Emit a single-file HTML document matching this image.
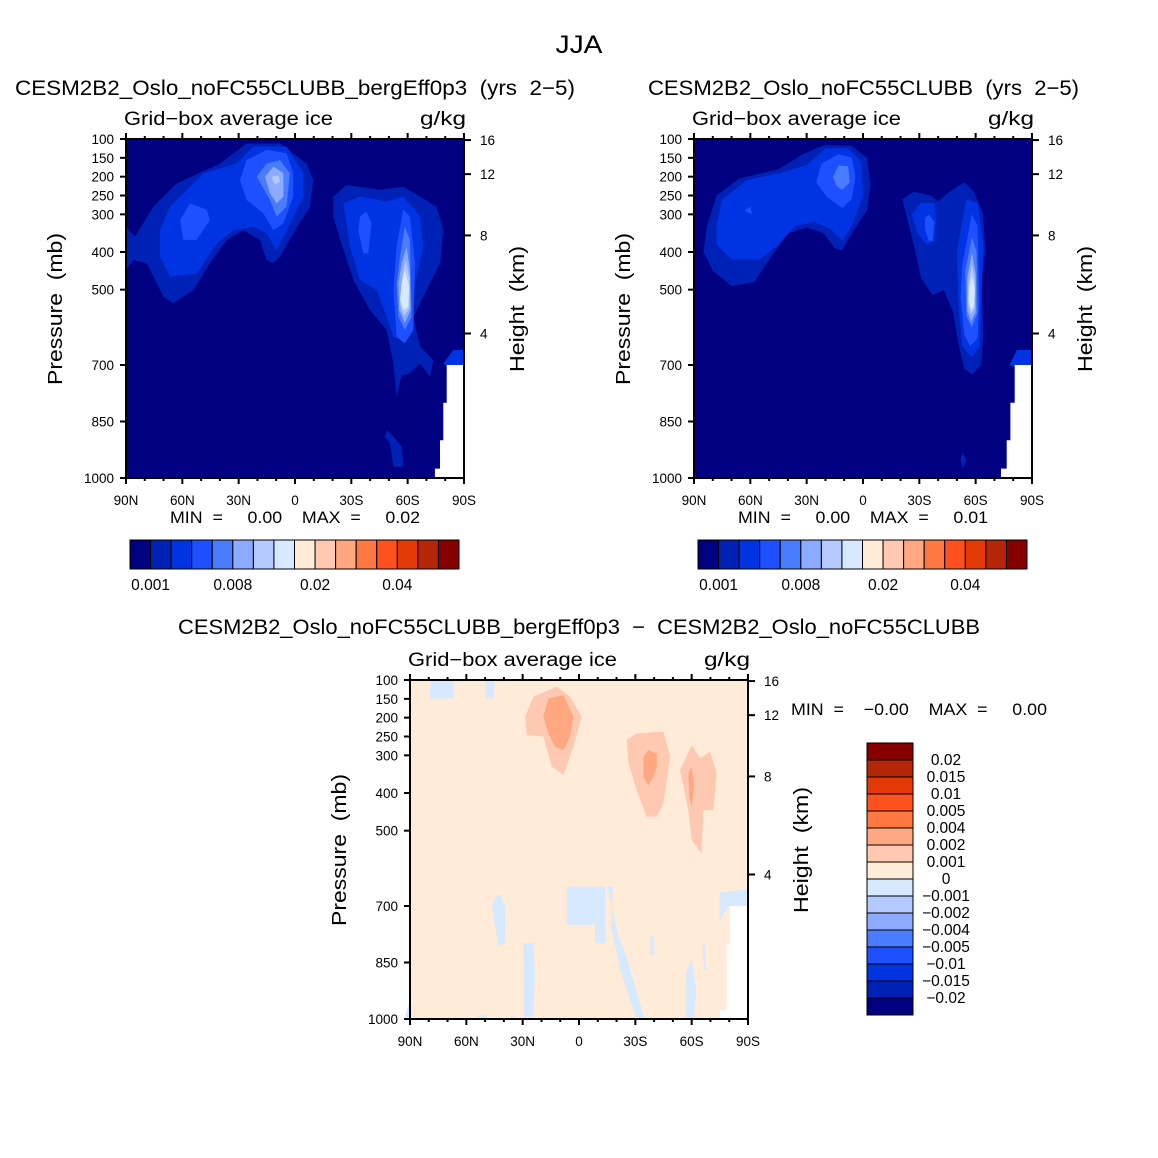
<!DOCTYPE html>
<html><head><meta charset="utf-8">
<style>
html,body{margin:0;padding:0;background:#fff;}
svg{display:block;font-family:"Liberation Sans",sans-serif;}
</style></head>
<body>
<svg id="fig" width="1158" height="1158" viewBox="0 0 1158 1158" xmlns="http://www.w3.org/2000/svg">
<rect width="1158" height="1158" fill="#fff"/>
</svg>
<script>
// ---------- data ----------
const levelColors = ["#010081","#0021b5","#0034e2","#1e50ff","#4a7cff","#8caaff","#b4c9ff","#d6e9ff","#ffebd8","#ffc9b1","#ffa781","#ff7841","#ff5020","#e33808","#b52608","#870000"];
const barLabelsTop = ["0.001","0.008","0.02","0.04"];
const barLabelIdx = [1,5,9,13];
const diffLabels = ["0.02","0.015","0.01","0.005","0.004","0.002","0.001","0","\u22120.001","\u22120.002","\u22120.004","\u22120.005","\u22120.01","\u22120.015","\u22120.02"];
const latTicks = [90,60,30,0,-30,-60,-90];
const latTickLabels = ["90N","60N","30N","0","30S","60S","90S"];
const presTicks = [100,150,200,250,300,400,500,700,850,1000];
const heightTicks = [16,12,8,4];

const panel1Regions = [
 [1,[[90,333],[85.2,359],[75.5,280],[63,218],[40,165],[25.8,112],[8,112],[-6.2,165],[-9.7,209],[-8,280],[0.9,350],[8,412],[11.5,430],[15.1,421],[18.7,368],[27.5,342],[36.4,368],[45.3,430],[54.1,501],[64.8,536],[70.1,519],[79,430],[86.1,421],[90,448]]],
 [2,[[71.9,342],[66.6,280],[48.8,191],[31.1,165],[22.2,120],[4.5,120],[-4.4,191],[-4.4,253],[4.5,342],[9.8,395],[15.1,350],[22.2,333],[32.9,342],[41.7,377],[52.4,457],[66.6,465],[71.9,412]]],
 [3,[[61.2,315],[55.9,271],[47,288],[45.3,315],[52.4,368],[59.5,368]]],
 [3,[[29.3,209],[25.8,156],[15.1,129],[4.5,138],[0.9,191],[0.9,253],[6.2,324],[11.5,342],[16.9,297],[25.8,262]]],
 [4,[[20.4,200],[15.1,165],[8,156],[2.7,191],[4.5,280],[9.8,306],[13.3,262]]],
 [5,[[16,200],[11.5,173],[6.2,191],[6.2,253],[9.8,271],[13.3,244]]],
 [6,[[12.4,200],[8.9,196],[8,213],[10.7,222]]],
 [1,[[-20.4,253],[-27.5,222],[-45.3,235],[-57.7,227],[-66.6,253],[-75.4,280],[-79,342],[-77.2,430],[-70.1,501],[-63,572],[-66.6,651],[-73.7,687],[-71.9,731],[-66.6,696],[-61.2,722],[-56.8,727],[-54.1,784],[-52.4,696],[-48.8,607],[-39.9,554],[-31.1,474],[-24,368],[-20.4,306]]],
 [2,[[-79,696],[-84.3,660],[-89.8,660],[-90,704],[-80.8,704]]],
 [1,[[-48.8,873],[-52.4,890],[-56.8,917],[-57.7,970],[-52.4,970],[-50.6,908],[-47.9,890]]],
 [2,[[-25.7,271],[-34.6,253],[-48.8,266],[-57.7,253],[-66.6,306],[-68.3,386],[-63,501],[-63,607],[-57.7,634],[-52.4,625],[-48.8,572],[-43.5,501],[-34.6,474],[-29.3,386]]],
 [3,[[-34.6,306],[-38.1,293],[-40.8,324],[-39,404],[-36.4,404],[-33.7,342]]],
 [3,[[-54.1,386],[-57.7,288],[-61.2,306],[-63.9,430],[-63,607],[-58.5,642],[-54.1,625],[-52.4,501]]],
 [4,[[-55.9,412],[-58.5,333],[-61.2,368],[-62.1,572],[-58.5,607],[-55,572],[-54.1,483]]],
 [5,[[-56.8,430],[-59.5,386],[-61.2,448],[-61.6,554],[-58.5,589],[-55.5,554],[-55,483]]],
 [6,[[-57.3,460],[-59,420],[-61,470],[-60.8,550],[-58,570],[-56,540]]],
 [7,[[-56.8,483],[-58.5,448],[-60.8,492],[-60.3,545],[-57.7,554],[-55.9,527]]]
];
const panel2Regions = [
 [1,[[83,330],[78,250],[66,205],[45,180],[32,140],[20,115],[6,118],[-2,150],[-4,220],[-2,290],[6,350],[11,395],[15,390],[21,350],[30,335],[40,350],[50,420],[58,480],[70,490],[80,450],[85,400]]],
 [2,[[78,330],[75,260],[62,210],[44,190],[30,170],[20,125],[8,125],[1,160],[0,250],[6,330],[11,370],[17,340],[26,320],[36,330],[45,380],[55,420],[70,420],[78,380]]],
 [3,[[25,215],[22,165],[13,140],[6,150],[4,200],[6,260],[11,283],[19,255]]],
 [3,[[63,290],[60,280],[59,300]]],
 [4,[[16,200],[13,170],[8,172],[7,215],[11,235],[14,225]]],
 [1,[[-21,260],[-27,240],[-36,250],[-40,265],[-46,240],[-54,215],[-59,240],[-64,300],[-65,400],[-63,480],[-64,620],[-63,700],[-58,725],[-54,710],[-51,650],[-48,560],[-43,500],[-37,515],[-31,470],[-27,380]]],
 [2,[[-78,700],[-82,660],[-89.8,660],[-90,704],[-80,704]]],
 [1,[[-52,950],[-53,930],[-55,955],[-53,975]]],
 [2,[[-26,300],[-31,270],[-38,270],[-39,320],[-38,370],[-34,380],[-29,350]]],
 [3,[[-33,310],[-35,300],[-38,320],[-37,370],[-35,370],[-33,340]]],
 [2,[[-50,400],[-55,260],[-61,270],[-64,380],[-63,540],[-62,650],[-58,680],[-53,650],[-51,550]]],
 [3,[[-53,430],[-58,300],[-61,330],[-62,520],[-61,630],[-57,650],[-54,620],[-52,520]]],
 [4,[[-54.5,450],[-58,360],[-60.5,400],[-61,560],[-58,600],[-55,570]]],
 [5,[[-55.5,470],[-58,400],[-60,460],[-60,560],[-57.5,585],[-55.5,555]]],
 [6,[[-56,490],[-58,430],[-59.8,480],[-59.5,550],[-57.5,565],[-56,540]]],
 [7,[[-56.5,500],[-58,460],[-59.5,500],[-59,545],[-57.5,555],[-56.3,530]]]
];
const missing1 = [[-80.8,700],[-90,700],[-90,1000],[-74.5,1000],[-74.5,975],[-77.2,975],[-77.2,900],[-79,900],[-79,800],[-80.8,800]];
const missing2 = [[-80.8,700],[-90,700],[-90,1000],[-73.5,1000],[-73.5,975],[-76.5,975],[-76.5,900],[-78.5,900],[-78.5,800],[-80.8,800]];
const missingDiff = [[-80.4,700],[-90,700],[-90,1000],[-75.1,1000],[-75.1,976],[-78.7,976],[-78.7,800],[-80.4,800]];
const diffRegions = [
 [9,[[28.7,197],[24.3,144],[11.9,118],[4.8,144],[-1.4,197],[3.0,277],[8.3,352],[14.5,330],[19,250],[27.9,246]]],
 [9,[[-25.4,259],[-30.7,242],[-44.9,237],[-48.5,304],[-44.9,428],[-41.4,463],[-36,463],[-30.7,392],[-26.3,321]]],
 [9,[[-53.8,339],[-60,273],[-64.5,308],[-69.8,290],[-73.3,348],[-71.5,445],[-66.2,445],[-65.3,560],[-60,525],[-58.2,445]]],
 [10,[[19,197],[16.3,149],[8.3,140],[3,197],[4.8,250],[8.3,286],[12.8,277],[16.3,242]]],
 [10,[[-34.3,304],[-36.9,286],[-41.4,295],[-41.4,330],[-39.6,357],[-36.9,379],[-34.3,357]]],
 [10,[[-58.2,348],[-60,330],[-61.3,383],[-60,436],[-58.7,410]]],
 [7,[[79.3,100],[66.9,100],[66.9,149],[79.3,149]]],
 [7,[[50,100],[44.7,100],[45.5,149],[49.5,149]]],
 [7,[[6.6,649],[-13.9,649],[-13.9,799],[-8.5,799],[-8.5,750],[6.6,750]]],
 [7,[[44,671],[42,671],[39.4,700],[39.4,799],[43,805],[46.5,700]]],
 [7,[[29.6,799],[24.3,799],[23.5,880],[24.3,994],[29.6,994]]],
 [7,[[-15,649],[-18,649],[-17,760],[-19,800],[-22,870],[-27,950],[-31,1000],[-35,1000],[-32,950],[-29,900],[-25,830],[-21,780]]],
 [7,[[-60,840],[-57,880],[-56.5,1000],[-61,1000],[-62.5,930]]],
 [7,[[-75,665],[-90,655],[-90,700],[-80,700],[-77,720],[-75,740]]],
 [7,[[-66,800],[-67,800],[-67.5,870],[-66.5,870]]],
 [7,[[-40,780],[-38,780],[-38,830],[-40,830]]],
 [7,[[53,990],[50,990],[48,1000],[56,1000]]],
 [7,[[93,1000],[90,950],[89,1000]]],
 [7,[[35,990],[33,1000],[38,1000]]]
];

// ---------- helpers ----------
const NS = "http://www.w3.org/2000/svg";
const svg = document.getElementById("fig");
const PW = 338, PH = 339;
function el(tag, parent){const e=document.createElementNS(NS,tag);parent.appendChild(e);return e;}
function xScale(lat, x0){return x0 + (90-lat)/180*PW;}
function yScale(p, y0){return y0 + (p-100)/900*PH;}
function hToP(z){ if(z<=11) return 1013.25*Math.pow(1-2.25577e-2*z,5.2559); return 226.32*Math.exp(-(z-11)/6.3416); }
function text(parent, x, y, s, size, anchor, len){
  const t=el("text",parent);
  t.setAttribute("x",x);t.setAttribute("y",y);t.setAttribute("font-size",size);
  t.setAttribute("text-anchor",anchor||"start");t.setAttribute("fill","#000");
  if(len){t.setAttribute("textLength",len);t.setAttribute("lengthAdjust","spacingAndGlyphs");}
  t.style.whiteSpace="pre";
  t.textContent=s;return t;
}
function poly(parent, pts, x0, y0, fill){
  const p=el("path",parent);
  p.setAttribute("d","M"+pts.map(q=>xScale(q[0],x0).toFixed(1)+","+yScale(q[1],y0).toFixed(1)).join("L")+"Z");
  p.setAttribute("fill",fill);
  return p;
}

function drawPanel(x0, y0, bgIdx, regions, missing, name){
  const g=el("g",svg);
  
  
  const bg=el("rect",g);
  bg.setAttribute("x",x0);bg.setAttribute("y",y0);bg.setAttribute("width",PW);bg.setAttribute("height",PH);
  bg.setAttribute("fill",levelColors[bgIdx]);
  
  
  regions.forEach(r=>{
    const p=poly(g,r[1],x0,y0,levelColors[r[0]]);
    
    
  });
  const m=poly(g,missing,x0,y0,"#fff");
  
  
  const fr=el("rect",g);
  fr.setAttribute("x",x0);fr.setAttribute("y",y0);fr.setAttribute("width",PW);fr.setAttribute("height",PH);
  fr.setAttribute("fill","none");fr.setAttribute("stroke","#000");fr.setAttribute("stroke-width","2");
  
  
  for(let lat=90;lat>=-90;lat-=10){
    const x=xScale(lat,x0); const major=(lat%30===0); const len=major?6:3;
    [[y0,y0-len],[y0+PH,y0+PH+len]].forEach(s=>{
      const l=el("line",g);l.setAttribute("x1",x);l.setAttribute("x2",x);l.setAttribute("y1",s[0]);l.setAttribute("y2",s[1]);
      l.setAttribute("stroke","#000");l.setAttribute("stroke-width","2");
    });
  }
  latTicks.forEach((lat,i)=>{
    const t=text(g,xScale(lat,x0),y0+PH+27,latTickLabels[i],13.5,"middle");
    
    
  });
  presTicks.forEach(p=>{
    const y=yScale(p,y0);
    const l=el("line",g);l.setAttribute("x1",x0-6);l.setAttribute("x2",x0);l.setAttribute("y1",y);l.setAttribute("y2",y);
    l.setAttribute("stroke","#000");l.setAttribute("stroke-width","2");
    const t=text(g,x0-12,y+5,String(p),13.5,"end");
    
    
  });
  heightTicks.forEach(h=>{
    const y=yScale(hToP(h),y0);
    const l=el("line",g);l.setAttribute("x1",x0+PW);l.setAttribute("x2",x0+PW+7);l.setAttribute("y1",y);l.setAttribute("y2",y);
    l.setAttribute("stroke","#000");l.setAttribute("stroke-width","2");
    const t=text(g,x0+PW+16,y+5,String(h),13.5,"start");
    
    
  });
  const a=text(g,x0-2,y0-14,"Grid\u2212box average ice",19,"start",209);
  
  
  const u=text(g,x0+PW+2,y0-14,"g/kg",19,"end",46);
  
  
  const yl=text(g,0,0,"Pressure  (mb)",20,"middle",152);
  yl.setAttribute("transform","translate("+(x0-64)+","+(y0+170)+") rotate(-90)");
  
  
  const hl=text(g,0,0,"Height  (km)",20,"middle",126);
  hl.setAttribute("transform","translate("+(x0+PW+60)+","+(y0+170)+") rotate(-90)");
  
  
  return g;
}

function hColorbar(x0, y0, name){
  const g=el("g",svg);
  
  
  const w=329/16;
  levelColors.forEach((c,i)=>{
    const r=el("rect",g);
    r.setAttribute("x",x0+i*w);r.setAttribute("y",y0);r.setAttribute("width",w);r.setAttribute("height",29);
    r.setAttribute("fill",c);r.setAttribute("stroke","#000");r.setAttribute("stroke-width","1");
    
    
  });
  barLabelsTop.forEach((s,i)=>{
    const t=text(g,x0+barLabelIdx[i]*w,y0+50,s,15.5,"middle");
    
    
  });
}

// ---------- titles ----------
const tt=text(svg,579,53,"JJA",25,"middle",47);


const t1=text(svg,15,95,"CESM2B2_Oslo_noFC55CLUBB_bergEff0p3  (yrs  2\u22125)",21,"start",560);


const t2=text(svg,648,95,"CESM2B2_Oslo_noFC55CLUBB  (yrs  2\u22125)",21,"start",431);


const t3=text(svg,178,634,"CESM2B2_Oslo_noFC55CLUBB_bergEff0p3  \u2212  CESM2B2_Oslo_noFC55CLUBB",21,"start",802);



drawPanel(126,139,0,panel1Regions,missing1,"panel1-contour");
drawPanel(694,139,0,panel2Regions,missing2,"panel2-contour");
drawPanel(410,680,8,diffRegions,missingDiff,"diff-contour");

const m1=text(svg,170,523,"MIN  =     0.00    MAX  =     0.02",17,"start",250);


const m2=text(svg,738,523,"MIN  =     0.00    MAX  =     0.01",17,"start",250);


const m3=text(svg,791,715,"MIN  =    \u22120.00    MAX  =     0.00",17,"start",256);



hColorbar(130,540,"panel1-colorbar");
hColorbar(698,540,"panel2-colorbar");

const vg=el("g",svg);


const bh=272/16;
levelColors.slice().reverse().forEach((c,i)=>{
  const r=el("rect",vg);
  r.setAttribute("x",867);r.setAttribute("y",743+i*bh);r.setAttribute("width",46);r.setAttribute("height",bh);
  r.setAttribute("fill",c);r.setAttribute("stroke","#000");r.setAttribute("stroke-width","1");
  
  
});
diffLabels.forEach((s,i)=>{
  const t=text(vg,946,743+(i+1)*bh+5,s,15.5,"middle");
  
  
});
</script>
</body></html>
